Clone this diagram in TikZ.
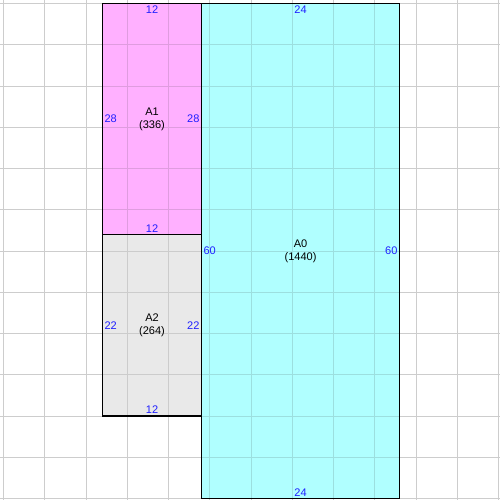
\documentclass[tikz,border=0pt]{standalone}
\usepackage{fontspec}
\setmainfont{Liberation Sans}

\definecolor{sheetA0}{HTML}{B0FFFF}
\definecolor{sheetA1}{HTML}{FFB0FF}
\definecolor{sheetA2}{HTML}{E9E9E9}
\definecolor{lineA0}{HTML}{9CDFDF}
\definecolor{lineA1}{HTML}{DF9CDF}
\definecolor{lineA2}{HTML}{CCCCCC}
\definecolor{dimblue}{HTML}{2020FF}
\definecolor{gridgray}{HTML}{CDCDCD}

\begin{document}
\begin{tikzpicture}[x=0.25cm, y=-0.25cm,
    font=\fontsize{9.5}{11}\selectfont,
    dim/.style={text=dimblue, inner sep=1.6pt},
    sheetname/.style={align=center, inner sep=0pt},
    gridline/.style={line width=0.8pt}]
  \useasboundingbox (-0.424,-0.424) rectangle (60.18,60.18);

  % grid
  \foreach \k in {0,5,...,60} {
    \draw[gridgray, gridline] (\k,-0.424) -- (\k,60.18);
    \draw[gridgray, gridline] (-0.424,\k) -- (60.18,\k);
  }

  % sheets, with the grid tinted through them
  \foreach \sx/\sy/\ex/\ey/\sheet in {12/0/24/28/A1, 12/28/24/50/A2, 24/0/48/60/A0} {
    \begin{scope}
      \clip (\sx,\sy) rectangle (\ex,\ey);
      \fill[sheet\sheet] (\sx,\sy) rectangle (\ex,\ey);
      \foreach \k in {0,5,...,60} {
        \draw[line\sheet, gridline] (\k,-0.424) -- (\k,60.18);
        \draw[line\sheet, gridline] (-0.424,\k) -- (60.18,\k);
      }
    \end{scope}
    \draw[line width=0.9pt] (\sx,\sy) rectangle (\ex,\ey);
  }

  \node[sheetname] (a1) at (18,14) {A1\\(336)};
  \node[sheetname] (a2) at (18,39) {A2\\(264)};
  \node[sheetname] (a0) at (36,30) {A0\\(1440)};

  \node[dim, anchor=north] (a1t) at (18, 0) {12};
  \node[dim, anchor=south] (a1b) at (18,28) {12};
  \node[dim, anchor=west]  (a1l) at (12,14) {28};
  \node[dim, anchor=east]  (a1r) at (24,14) {28};

  \node[dim, anchor=south] (a2b) at (18,50) {12};
  \node[dim, anchor=west]  (a2l) at (12,39) {22};
  \node[dim, anchor=east]  (a2r) at (24,39) {22};

  \node[dim, anchor=north] (a0t) at (36, 0) {24};
  \node[dim, anchor=south] (a0b) at (36,60) {24};
  \node[dim, anchor=west]  (a0l) at (24,30) {60};
  \node[dim, anchor=east]  (a0r) at (48,30) {60};
\end{tikzpicture}
\end{document}
